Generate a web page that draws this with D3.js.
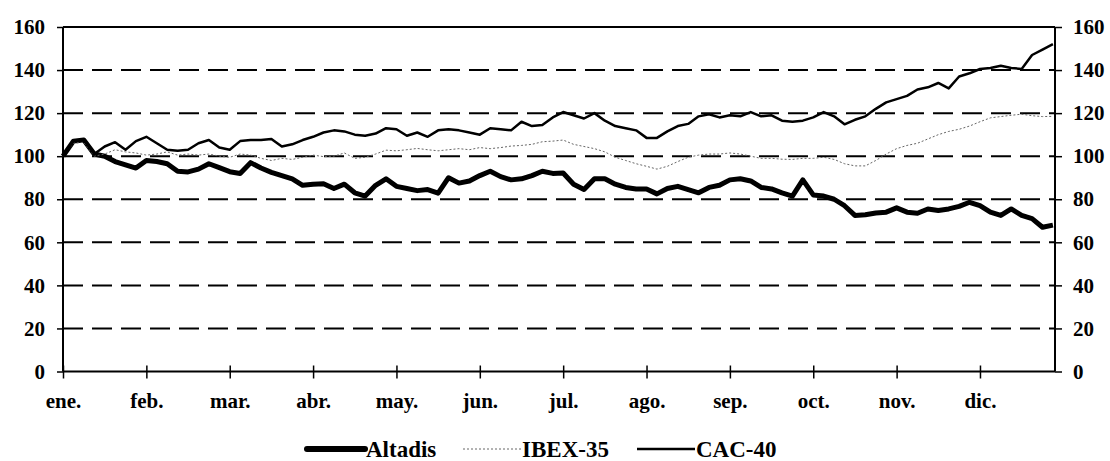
<!DOCTYPE html>
<html>
<head>
<meta charset="utf-8">
<script src="https://cdn.jsdelivr.net/npm/d3@7"></script>
<style>
  body { margin: 0; background: #fff; }
  text { font-family: "Liberation Serif", "Times New Roman", serif; font-weight: bold; }
</style>
</head>
<body>
<script>
// month labels, one tick per month
const months = ["ene.", "feb.", "mar.", "abr.", "may.", "jun.", "jul.", "ago.", "sep.", "oct.", "nov.", "dic."];
const yTicks = [0, 20, 40, 60, 80, 100, 120, 140, 160];

// sample points, in months from 1 Jan (every 1/8 month)
const t = d3.range(96).map((i) => i / 8);

const altadis = [
  100, 107, 107.5, 101, 100, 97.5, 96, 94.5, 98, 97.5, 96.5, 93, 92.7, 94, 96.5, 94.7,
  92.8, 92, 97, 94.5, 92.5, 91, 89.5, 86.5, 87, 87.2, 85, 87, 83, 81.5, 86.5, 89.5,
  86, 85, 84, 84.5, 82.8, 90, 87.5, 88.5, 91, 93, 90.5, 89, 89.5, 91, 93, 92,
  92.2, 87, 84.5, 89.5, 89.5, 87, 85.5, 84.8, 84.8, 82.5, 85, 86, 84.5, 83, 85.5, 86.5,
  89, 89.5, 88.5, 85.5, 84.8, 83, 81.5, 89, 82, 81.5, 80, 77, 72.5, 72.8, 73.6, 74,
  76, 74, 73.5, 75.5, 74.8, 75.5, 76.7, 78.6, 77, 74, 72.5, 75.5, 72.5, 71, 67, 68
];

const ibex = [
  100, 106, 106.5, 100, 101, 103, 102, 101.5, 100.5, 101, 102, 100.5, 101, 100.5, 101, 100,
  99.5, 101, 100.5, 99, 98, 99, 98.5, 99.5, 100.5, 99.8, 100, 101.5, 99, 99.5, 101, 102.8,
  102.5, 103, 103.6, 103, 102.5, 103, 103.5, 103, 104, 103.5, 104, 104.7, 105, 105.5, 106.7, 107,
  107.5, 105.5, 104.5, 103.5, 102, 99.5, 98, 96.5, 95.3, 94, 95.3, 97.5, 99.5, 100.5, 101, 101,
  101.5, 101, 100, 99, 99, 98.6, 98.5, 99, 99, 99.5, 98.5, 96.5, 95.5, 95.5, 98, 101,
  103.5, 105, 106, 108, 110, 111.5, 112.5, 114, 116, 117.8, 118.4, 119, 119.5, 118.8, 118.4, 118.5
];

const cac = [
  100, 107, 107.5, 101, 104.5, 106.5, 103, 107, 109, 106, 103, 102.5, 103, 106, 107.5, 104,
  103, 107, 107.5, 107.5, 108, 104.5, 105.5, 107.5, 109, 111, 112, 111.5, 110, 109.5, 110.5, 113,
  112.5, 109.5, 111, 109, 112, 112.5, 112, 111, 110, 113, 112.5, 112, 116, 114, 114.5, 118,
  120.5, 119, 117.5, 120, 116.5, 114, 113, 112, 108.5, 108.5, 111.5, 114, 115, 118.5, 119.5, 118,
  119, 118.5, 120.5, 118.5, 119, 116.5, 116, 116.5, 118, 120.5, 118.5, 114.8, 116.9, 118.5, 122, 125,
  126.5, 128, 131, 132, 134, 131.5, 137, 138.5, 140.5, 141, 142, 141, 140.5, 147, 149.5, 152
];

const width = 1110;
const height = 461;
const margin = { top: 27, right: 55, bottom: 89.5, left: 63 };

const x = d3.scaleLinear().domain([0, 11.9]).range([margin.left, width - margin.right]);
const y = d3.scaleLinear().domain([0, 160]).range([height - margin.bottom, margin.top]);

const svg = d3
  .select("body")
  .append("svg")
  .attr("width", width)
  .attr("height", height);

// dashed grid
svg
  .append("g")
  .selectAll("line")
  .data(yTicks.filter((d) => d > 0 && d < 160))
  .enter()
  .append("line")
  .attr("x1", x(0))
  .attr("x2", x(11.9))
  .attr("y1", (d) => y(d))
  .attr("y2", (d) => y(d))
  .style("stroke", "#000")
  .style("stroke-width", 2)
  .style("stroke-dasharray", "20,9");

// top frame line
svg
  .append("line")
  .attr("x1", x(0))
  .attr("x2", x(11.9))
  .attr("y1", y(160))
  .attr("y2", y(160))
  .style("stroke", "#000")
  .style("stroke-width", 2);

const axisLeft = svg
  .append("g")
  .attr("transform", `translate(${x(0)},0)`)
  .call(d3.axisLeft(y).tickValues(yTicks).tickSize(6).tickPadding(12));

const axisRight = svg
  .append("g")
  .attr("transform", `translate(${x(11.9)},0)`)
  .call(d3.axisRight(y).tickValues(yTicks).tickSize(7).tickPadding(11));

const axisBottom = svg
  .append("g")
  .attr("transform", `translate(0,${y(0)})`)
  .call(
    d3.axisBottom(x)
      .tickValues(d3.range(12))
      .tickFormat((d) => months[d])
      .tickSize(7)
      .tickPadding(15)
  );
axisBottom.selectAll(".tick line").attr("y1", -6);

[axisLeft, axisRight, axisBottom].forEach((g) => {
  g.selectAll(".domain").style("stroke-width", 2).style("stroke", "#000");
  g.selectAll(".tick line").style("stroke-width", 1.5).style("stroke", "#000");
  g.selectAll("text").style("font-size", "21px").style("fill", "#000");
});
axisLeft.select(".domain").attr("d", `M0,${y(0)}V${y(160)}`);
axisRight.select(".domain").attr("d", `M0,${y(0)}V${y(160)}`);
axisBottom.select(".domain").attr("d", `M${x(0)},0H${x(11.9)}`);

const series = [
  { name: "Altadis", values: altadis, color: "#000", w: 5, dash: null },
  { name: "IBEX-35", values: ibex, color: "#666", w: 1, dash: "2,2" },
  { name: "CAC-40", values: cac, color: "#000", w: 2.5, dash: null }
];

const line = d3
  .line()
  .x((d, i) => x(t[i]))
  .y((d) => y(d));

svg
  .selectAll(".serie")
  .data(series)
  .enter()
  .append("path")
  .attr("class", "serie")
  .attr("d", (d) => line(d.values))
  .style("fill", "none")
  .style("stroke", (d) => d.color)
  .style("stroke-width", (d) => d.w)
  .style("stroke-dasharray", (d) => d.dash)
  .style("stroke-linejoin", "round");

// legend
const legendX = [307, 463, 637];
const legend = svg
  .selectAll(".legend")
  .data(series)
  .enter()
  .append("g")
  .attr("class", "legend")
  .attr("transform", (d, i) => `translate(${legendX[i]},449)`);

legend
  .append("line")
  .attr("x1", 0)
  .attr("x2", 58)
  .style("stroke", (d) => d.color)
  .style("stroke-width", (d) => (d.w > 4 ? 6 : d.w))
  .style("stroke-linecap", (d) => (d.w > 4 ? "round" : "butt"))
  .style("stroke-dasharray", (d) => d.dash);

legend
  .append("text")
  .attr("x", 59)
  .attr("y", 8)
  .style("font-size", "23px")
  .text((d) => d.name);
</script>
</body>
</html>
